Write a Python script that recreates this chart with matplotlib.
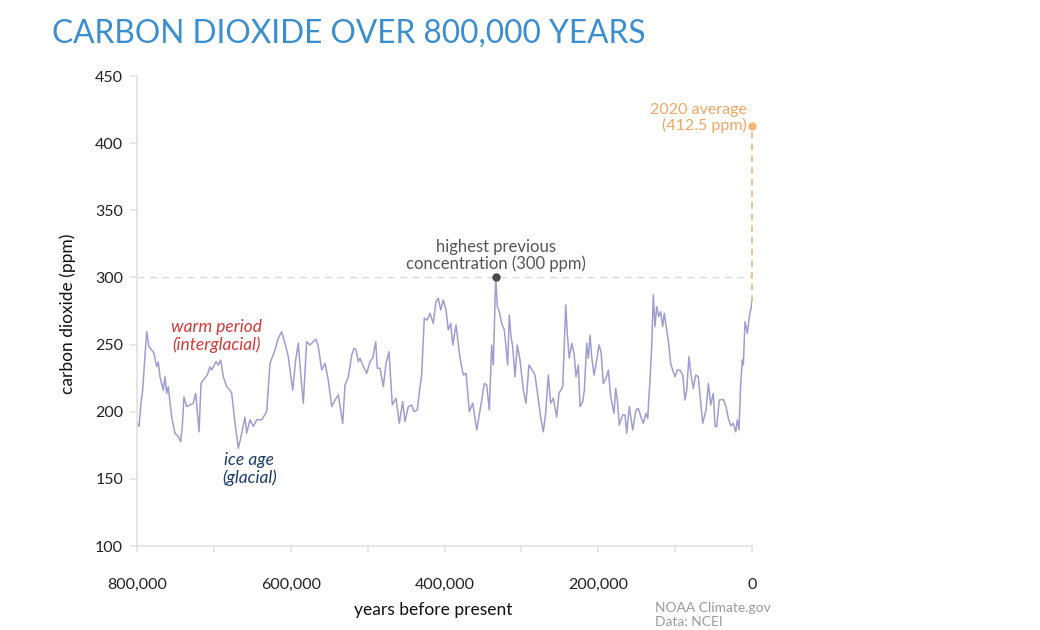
import numpy as np
import matplotlib
matplotlib.use("Agg")
import matplotlib.pyplot as plt
from matplotlib.ticker import FixedLocator, FuncFormatter

plt.rcParams['font.family'] = ['Lato', 'DejaVu Sans']

# thousands of years before present
kyr = [799.6, 797.4, 794.8, 792.6, 790.0, 787.4, 784.4, 780.9, 777.9, 774.4, 772.3, 770.1,
       765.8, 763.6, 761.4, 759.3, 754.9, 750.6, 746.3, 743.2, 741.1, 738.9, 735.4, 731.1,
       726.8, 723.6, 719.3, 716.7, 713.8, 708.6, 705.0, 702.8, 697.2, 694.2, 691.1, 687.7,
       683.3, 679.0, 676.8, 672.5, 668.2, 664.7, 659.5, 657.3, 653.0, 648.7, 644.3, 637.8,
       631.3, 627.0, 620.5, 616.2, 611.8, 607.5, 603.2, 597.5, 593.6, 590.2, 587.1, 583.7,
       579.3, 575.0, 570.7, 567.2, 564.2, 559.7, 555.4, 551.2, 546.7, 542.4, 538.1,
       532.4, 529.4, 525.1, 520.7, 517.7, 515.1, 512.1, 509.9, 506.4, 501.2, 496.9, 493.4,
       489.5, 487.4, 483.9, 479.6, 476.1, 472.2, 467.9, 463.1, 458.8, 454.4, 451.4, 447.1,
       442.7, 439.7, 435.4, 431.9, 429.7, 426.3, 422.4, 418.9, 414.6, 411.1, 408.1, 404.9,
       401.6, 398.0, 395.1, 391.9, 389.3, 385.0, 379.8, 375.5, 372.0, 367.7, 363.3, 358.1,
       351.6, 348.2, 345.1, 341.7, 338.6, 336.5, 333.4, 331.3, 328.7, 325.6, 322.2, 320.0,
       317.8, 315.7, 313.5, 311.3, 308.3, 305.3, 301.8, 297.5, 294.0, 290.1, 285.8, 282.3,
       278.8, 274.9, 271.5, 268.4, 265.0, 261.9, 258.5, 254.1, 251.1,
       246.2, 242.3, 240.3, 237.7, 234.5, 231.5, 228.9, 225.9, 223.7, 220.2, 218.1, 215.0,
       212.9, 210.7, 208.5, 205.5, 202.0, 199.0, 196.4, 193.4, 189.9, 186.9, 183.8, 179.5,
       177.3, 175.2, 172.6, 168.2, 165.2, 163.0, 159.6, 155.2, 150.9, 147.9, 144.4, 141.4,
       137.9, 135.7, 132.7, 130.5, 128.4, 126.2, 124.0, 121.4, 118.8, 116.2, 114.1, 111.0,
       108.9, 105.8, 103.2, 100.2, 97.2, 93.7, 90.1, 87.2, 84.9, 82.0, 79.3, 76.4, 73.2,
       69.9, 67.6, 64.1, 59.8, 56.8, 53.7, 50.3, 48.1, 45.9, 42.5, 37.3, 33.8, 30.8, 27.7,
       24.3, 21.2, 19.1, 16.9, 14.7, 12.6, 11.3, 9.1, 6.1, 3.5, 1.3, 0.0]

co2 = [191.4, 189.0, 206.5, 216.0, 238.5, 259.6, 248.4, 246.0, 243.5, 233.5, 237.0, 226.0,
       216.0, 226.0, 213.7, 218.6, 196.0, 184.0, 181.4, 177.7, 189.0, 211.0, 203.8, 205.0,
       206.3, 213.7, 185.0, 221.0, 223.6, 227.3, 233.5, 231.0, 237.3, 234.8, 238.5, 226.0,
       218.6, 216.0, 213.7, 191.4, 172.8, 181.4, 196.0, 184.0, 194.0, 189.0, 194.0, 194.0,
       200.0, 236.0, 246.0, 254.7, 259.6, 251.0, 241.0, 216.0, 238.5, 251.0, 228.6, 206.3,
       252.2, 249.7, 252.2, 254.0, 248.4, 231.0, 236.0, 223.6, 203.8, 208.7, 212.5,
       191.4, 220.0, 226.0, 242.2, 247.2, 246.0, 237.3, 239.8, 234.8, 228.6, 237.3, 239.8,
       252.2, 232.4, 232.4, 218.6, 236.0, 244.7, 205.0, 210.0, 191.4, 207.5, 192.6, 203.8,
       205.0, 200.0, 201.3, 218.6, 227.3, 269.6, 268.3, 273.3, 265.8, 282.0, 284.4, 275.7,
       283.2, 275.7, 260.9, 265.8, 249.7, 264.6, 239.8, 227.3, 228.6, 200.0, 206.3, 186.4,
       208.7, 221.0, 220.0, 201.3, 249.7, 234.8, 300.0, 278.2, 274.5, 265.8, 260.9, 248.4,
       234.8, 272.0, 255.9, 248.4, 226.0, 249.7, 238.5, 216.0, 206.3, 234.8, 231.0, 227.3,
       212.5, 196.0, 185.0, 198.8, 227.3, 206.3, 210.0, 196.0, 213.7,
       218.6, 279.5, 258.4, 239.8, 251.0, 243.5, 226.0, 234.8, 203.8, 207.5, 216.0, 251.0,
       239.8, 257.1, 241.0, 227.3, 238.5, 249.7, 244.7, 221.0, 224.9, 231.0, 211.2, 198.8,
       217.4, 208.7, 190.1, 197.6, 197.6, 184.0, 203.8, 186.4, 201.3, 202.5, 196.0, 191.4,
       198.8, 195.0, 223.6, 248.4, 287.0, 263.3, 278.2, 270.8, 274.5, 263.3, 273.3, 260.9,
       253.4, 236.0, 231.0, 226.0, 231.0, 231.0, 227.3, 208.7, 216.0, 241.0, 227.3, 217.4, 227.3,
       226.0, 212.5, 191.4, 201.3, 221.0, 205.0, 213.7, 189.0, 189.0, 208.7, 209.2, 203.8, 195.0, 189.6,
       191.4, 185.0, 194.0, 186.4, 221.0, 238.5, 234.8, 267.1, 258.4, 270.8, 277.0, 282.0]

previous_peak_kyr = 333.4
previous_peak_ppm = 300.0
avg_2020_ppm = 412.5

x_ticks = [800000, 600000, 400000, 200000, 0]
x_minor = [700000, 500000, 300000, 100000]
y_ticks = [100, 150, 200, 250, 300, 350, 400, 450]

years = np.array(kyr) * 1000.0
ppm = np.array(co2)

W, H = 1040, 630
fig = plt.figure(figsize=(W / 100, H / 100), dpi=100)
ax = fig.add_axes([137 / W, 1 - 546 / H, (752 - 137) / W, (546 - 76) / H])

grey = '#e2e2e2'
ax.set_xlim(800000, 0)
ax.set_ylim(100, 450)

# reference lines
ax.plot([800000, 0], [previous_peak_ppm, previous_peak_ppm], ls=(0, (5, 4)), color='#d9d9d9', lw=1.0, zorder=1)
ax.plot([0, 0], [ppm[-1], avg_2020_ppm], ls=(0, (4, 3)), color='#f7b577', lw=1.2, zorder=1, clip_on=False)

ax.plot(years, ppm, color='#a09dd0', lw=1.1, zorder=2, solid_joinstyle='round')

ax.plot([previous_peak_kyr * 1000], [previous_peak_ppm], 'o', color='#4a4a4a', ms=5, zorder=3)
ax.plot([0], [avg_2020_ppm], 'o', color='#f7b577', ms=5, zorder=3, clip_on=False)

for s in ['top', 'right']:
    ax.spines[s].set_visible(False)
for s in ['left', 'bottom']:
    ax.spines[s].set_color(grey)
    ax.spines[s].set_linewidth(1.2)

ax.xaxis.set_major_locator(FixedLocator(x_ticks))
ax.xaxis.set_minor_locator(FixedLocator(x_minor))
ax.xaxis.set_major_formatter(FuncFormatter(lambda v, p: f"{int(round(v)):,}"))
ax.yaxis.set_major_locator(FixedLocator(y_ticks))
ax.tick_params(axis='x', which='both', length=4, width=1.2, color=grey, pad=19, labelsize=11.5, labelcolor='#222222')
ax.tick_params(axis='y', which='both', length=5, width=1.2, color=grey, pad=5, labelsize=11.5, labelcolor='#222222')

# annotations
ax.text(696000, 256.4, "warm period\n(interglacial)", color='#d43a3a', style='italic',
        fontsize=12.5, ha='center', va='center', linespacing=1.05)
ax.text(654000, 157.4, "ice age\n(glacial)", color='#1c3d6b', style='italic',
        fontsize=12.5, ha='center', va='center', linespacing=1.05)
ax.annotate("highest previous\nconcentration (300 ppm)", xy=(previous_peak_kyr * 1000, previous_peak_ppm),
            xytext=(0, 4), textcoords='offset points', ha='center', va='bottom',
            color='#555555', fontsize=12, linespacing=1.05)
ax.annotate("2020 average\n(412.5 ppm)", xy=(0, avg_2020_ppm), xytext=(-4, 6),
            textcoords='offset points', ha='right', va='center',
            color='#f2a662', fontsize=11.5, linespacing=1.05, annotation_clip=False)

fig.text(52 / W, 1 - 34 / H, "CARBON DIOXIDE OVER 800,000 YEARS", color='#3b8fd0',
         fontsize=22.8, ha='left', va='center')
fig.text(68 / W, 1 - 314 / H, "carbon dioxide (ppm)", rotation=90, ha='center', va='center',
         fontsize=12.5, color='#111111')
fig.text(433.5 / W, 1 - 610 / H, "years before present", ha='center', va='center',
         fontsize=12.5, color='#111111')
fig.text(655 / W, 1 - 614.5 / H, "NOAA Climate.gov\nData: NCEI", ha='left', va='center',
         fontsize=10, color='#9a9a9a', linespacing=1.2)

fig.savefig("out.png", dpi=100)
